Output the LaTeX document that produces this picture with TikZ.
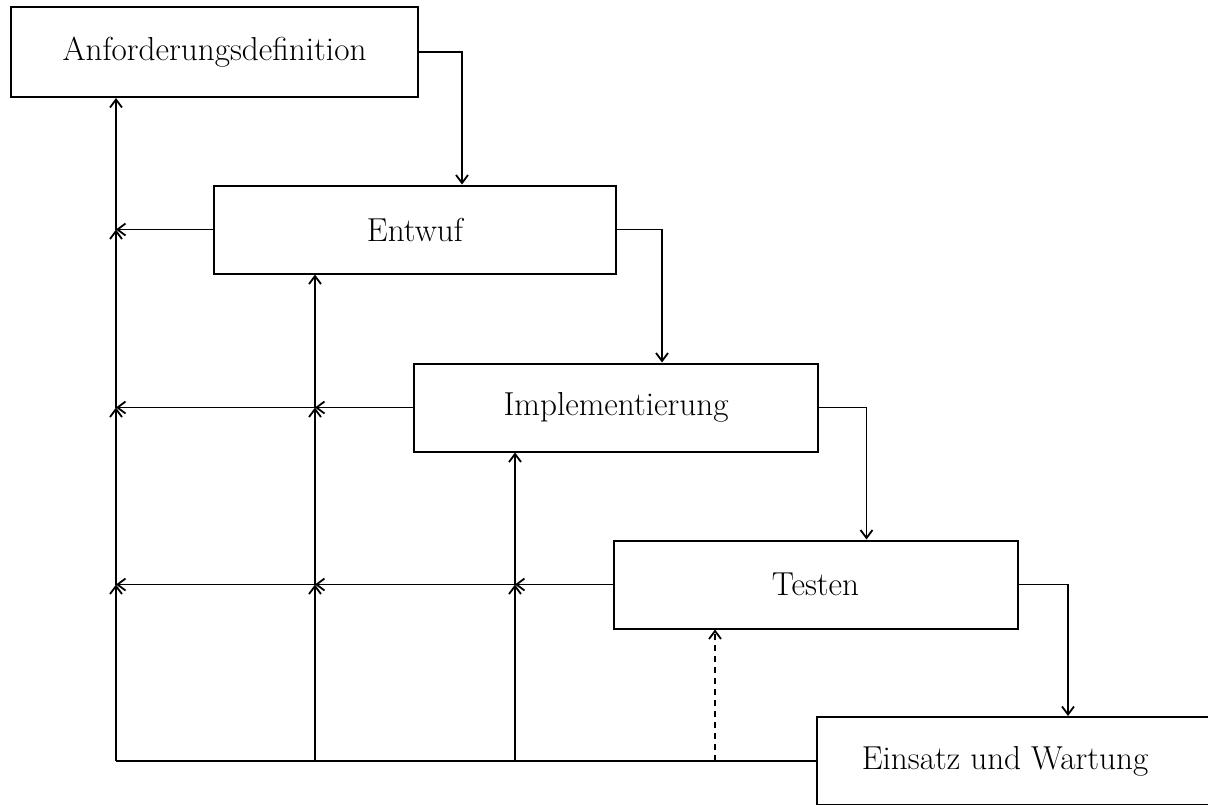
\documentclass[tikz,border=0pt]{standalone}
\usetikzlibrary{arrows.meta}
\begin{document}
\begin{tikzpicture}[x=0.5pt,y=-0.5pt,
  phase/.style={draw,line width=1pt,minimum width=202pt,minimum height=44pt,
    inner sep=0pt,font=\fontsize{16.6}{20}\selectfont},
  flow/.style={line width=0.8pt,-{Straight Barb[length=4pt,width=6pt,line width=0.9pt]}},
  plain/.style={line width=0.8pt},
  back/.style={line width=0.8pt,dash pattern=on 3pt off 2.5pt,
    -{Straight Barb[length=4pt,width=6pt,line width=0.9pt]}}]
\useasboundingbox (0,0) rectangle (1208,804);
\clip (0,0) rectangle (1208,804);

% phases of the waterfall
\node[phase,minimum width=203.5pt,minimum height=45pt] (A) at (214.5,52) {Anforderungsdefinition};
\node[phase,minimum width=201pt] (E) at (415,229.5) {Entwuf};
\node[phase] (I) at (616,407.5) {Implementierung};
\node[phase] (T) at (815.5,584.5) {Testen};
\node[phase,anchor=west] (Z) at (816,761) {};
\node[font=\fontsize{16.6}{20}\selectfont] (Zt) at (1005,761) {Einsatz und Wartung};

% forward flow
\draw[flow] (A.east) -| ([xshift=124.5pt]E.north west);
\draw[flow] (E.east) -| ([xshift=124.5pt]I.north west);
\draw[flow] (I.east) -| ([xshift=127pt]T.north west);
\draw[flow] (T.east) -| ([xshift=126pt]Z.north west);

% junctions of the feedback grid
\coordinate (b0) at (116,761);
\coordinate (b1) at (315,761);
\coordinate (b2) at (515,761);
\coordinate (b3) at (715,761);
\coordinate (a1) at (116,229.5);
\coordinate (a2) at (116,407.5);
\coordinate (a3) at (116,584.5);
\coordinate (c2) at (315,407.5);
\coordinate (c3) at (315,584.5);
\coordinate (e3) at (515,584.5);

% bottom return line
\draw[plain] (Z.west) -- (b0);

% vertical returns
\draw[flow] (b0) -- (a3);
\draw[flow] (a3) -- (a2);
\draw[flow] (a2) -- (a1);
\draw[flow] (a1) -- (a1 |- A.south);
\draw[flow] (b1) -- (c3);
\draw[flow] (c3) -- (c2);
\draw[flow] (c2) -- (c2 |- E.south);
\draw[flow] (b2) -- (e3);
\draw[flow] (e3) -- (e3 |- I.south);
\draw[back] (b3) -- (b3 |- T.south);

% horizontal returns
\draw[flow] (E.west) -- (a1);
\draw[flow] (I.west) -- (c2);
\draw[flow] (c2) -- (a2);
\draw[flow] (T.west) -- (e3);
\draw[flow] (e3) -- (c3);
\draw[flow] (c3) -- (a3);
\end{tikzpicture}
\end{document}
